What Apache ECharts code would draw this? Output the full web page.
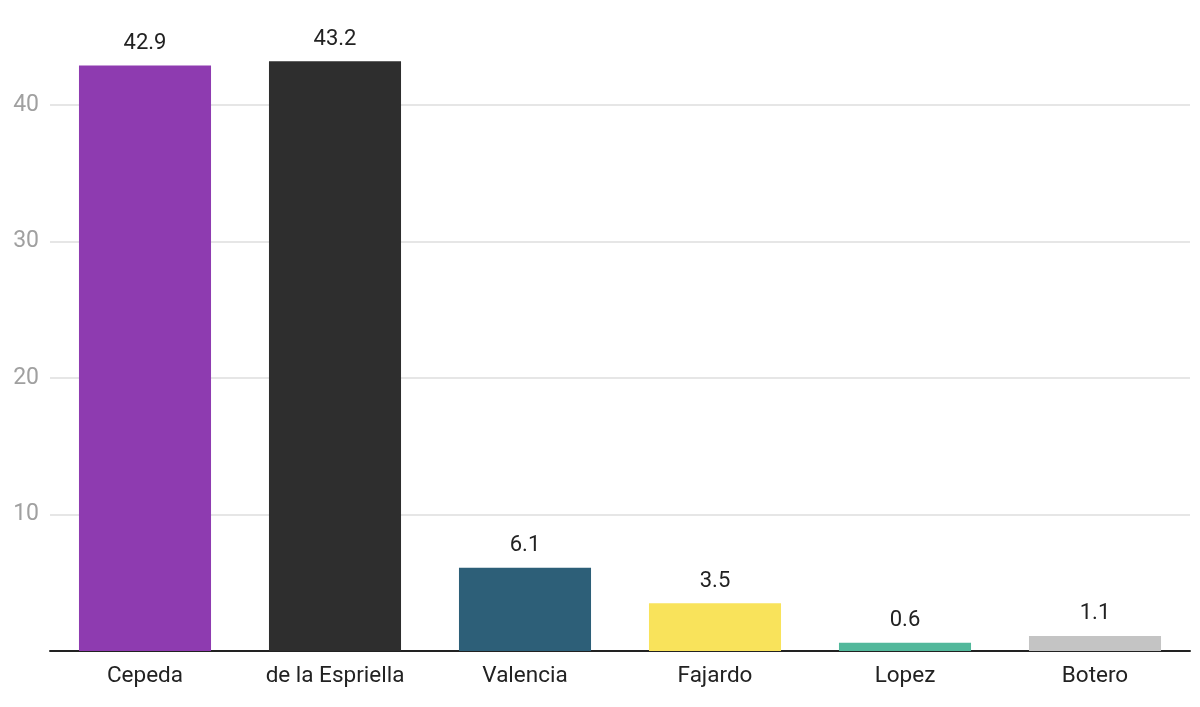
<!DOCTYPE html>
<html>
<head>
<meta charset="utf-8">
<script src="https://cdn.jsdelivr.net/npm/echarts@6/dist/echarts.min.js"></script>
<style>
  html, body { margin: 0; padding: 0; background: #fff; }
  #chart { width: 1200px; height: 707px; }
</style>
</head>
<body>
<div id="chart"></div>
<script>
const candidates = ['Cepeda', 'de la Espriella', 'Valencia', 'Fajardo', 'Lopez', 'Botero']
const shares = [42.9, 43.2, 6.1, 3.5, 0.6, 1.1]
const barColors = ['#8e3bb0', '#2e2e2e', '#2d5f78', '#f9e35b', '#52b89b', '#c4c4c4']

const chart = echarts.init(document.getElementById('chart'))

const option = {
  animation: false,
  textStyle: { fontFamily: 'Roboto' },
  grid: { left: 50, right: 10, top: 40, bottom: 56 },
  xAxis: {
    type: 'category',
    data: candidates,
    axisLine: { lineStyle: { color: '#222', width: 2 } },
    axisTick: { show: false },
    axisLabel: { color: '#222', fontSize: 22.5, margin: 14, fontFamily: 'Roboto' }
  },
  yAxis: {
    type: 'value',
    min: 0,
    max: 44.76,
    interval: 10,
    axisLine: { show: false },
    axisTick: { show: false },
    axisLabel: { color: '#a0a0a0', fontSize: 23, margin: 11, showMinLabel: false, showMaxLabel: false, fontFamily: 'Roboto' },
    splitLine: { showMaxLine: false, lineStyle: { color: '#e6e6e6', width: 2 } }
  },
  series: [{
    type: 'bar',
    barWidth: '69.5%',
    data: shares.map((v, i) => ({ value: v, itemStyle: { color: barColors[i] } })),
    label: {
      show: true,
      position: 'top',
      distance: 11,
      color: '#222',
      fontSize: 22,
      fontFamily: 'Roboto',
      formatter: p => p.value.toFixed(1)
    }
  }]
}

chart.setOption(option)
</script>
</body>
</html>
